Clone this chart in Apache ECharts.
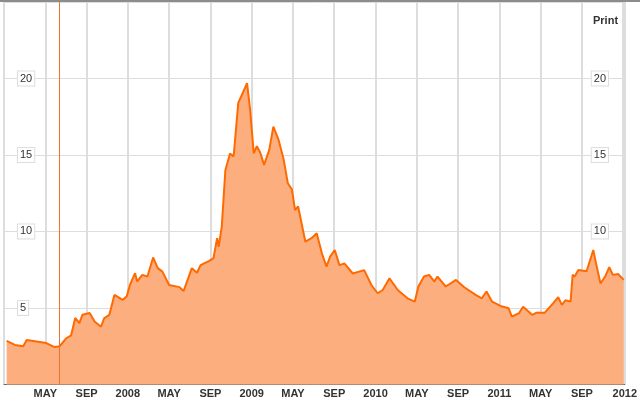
<!DOCTYPE html>
<html><head><meta charset="utf-8">
<script src="https://cdn.jsdelivr.net/npm/echarts@6/dist/echarts.min.js"></script>
<style>html,body{margin:0;padding:0;background:#fff}#c{width:640px;height:402px}</style>
</head><body><div id="c"></div>
<script>
// months since Jan 2007
const months = [0.26,1.06,1.86,2.2,3.15,4.1,4.9,5.4,6.0,6.5,6.9,7.3,7.6,8.3,8.8,9.4,9.7,10.2,10.7,11.5,11.9,12.2,12.7,12.9,13.4,13.9,14.45,14.9,15.35,16.0,17.0,17.4,18.2,18.7,19.05,19.85,20.3,20.65,20.8,21.1,21.45,21.9,22.25,22.7,23.2,23.55,23.85,24.2,24.5,24.8,25.2,25.7,26.1,26.6,27.1,27.5,27.9,28.2,28.5,29.2,29.8,30.3,30.8,31.25,31.6,32.05,32.5,33.0,33.8,34.9,35.6,36.2,36.7,37.35,37.7,38.15,39.1,39.8,40.15,40.7,41.2,41.7,42.0,42.8,43.8,44.6,45.7,46.3,46.75,47.3,48.1,48.9,49.2,49.9,50.3,51.2,51.6,52.4,53.2,53.7,54.05,54.4,54.9,55.1,55.3,55.65,56.45,57.1,57.4,57.8,58.25,58.65,59.0,59.5,60.05];
const values = [2.84,2.58,2.5,2.9,2.8,2.7,2.44,2.5,3.0,3.2,4.35,4.0,4.55,4.67,4.1,3.77,4.32,4.54,5.85,5.52,5.77,6.5,7.27,6.72,7.16,7.05,8.3,7.6,7.37,6.5,6.36,6.1,7.6,7.3,7.8,8.06,8.25,9.56,9.0,10.3,14.0,15.1,14.9,18.4,19.15,19.7,17.95,15.1,15.57,15.2,14.35,15.33,16.85,16.0,14.7,13.15,12.74,11.4,11.63,9.33,9.56,9.88,8.57,7.7,8.35,8.79,7.8,7.9,7.25,7.47,6.5,5.96,6.17,6.94,6.6,6.17,5.63,5.41,6.4,7.05,7.16,6.72,7.05,6.4,6.83,6.35,5.85,5.63,6.07,5.41,5.13,4.98,4.43,4.65,5.08,4.54,4.69,4.69,5.3,5.7,5.2,5.5,5.41,7.16,7.05,7.48,7.4,8.79,7.8,6.6,7.05,7.67,7.16,7.22,6.83];
const monthNames = {4:'MAY',8:'SEP'};
const yTicks = [5,10,15,20];
const markerMonth = 5.4;

const chart = echarts.init(document.getElementById('c'));
const yLabel = {inside:true,color:'#333',fontSize:11,fontFamily:'Arial, Liberation Sans, sans-serif',
  backgroundColor:'#fff',borderColor:'#ddd',borderWidth:1,padding:[2,2,1,2],showMinLabel:false,showMaxLabel:false,verticalAlign:'middle'};
chart.setOption({
  animation:false,
  grid:{left:4,right:11.6,top:2,bottom:17.6},
  xAxis:{type:'value',min:0,max:60.15,interval:4,
    axisLine:{show:true,lineStyle:{color:'#666',width:1}},axisTick:{show:false},
    splitLine:{show:true,lineStyle:{color:'#ddd',width:2}},
    axisLabel:{margin:4,color:'#333',fontSize:11,fontWeight:'bold',fontFamily:'Arial, Liberation Sans, sans-serif',
      showMaxLabel:true,
      formatter:v=>{const m=Math.round(v)%12; if(m===0) return Math.round(v)===0?'':String(2007+Math.round(v)/12); return monthNames[m]||'';}}},
  yAxis:[
    {type:'value',min:0,max:25,interval:5,position:'left',axisLine:{show:false},axisTick:{show:false},
     splitLine:{show:true,lineStyle:{color:'#ddd',width:1}},
     axisLabel:Object.assign({margin:14,align:'left'},yLabel)},
    {type:'value',min:0,max:25,interval:5,position:'right',axisLine:{show:false},axisTick:{show:false},
     splitLine:{show:false},
     axisLabel:Object.assign({margin:33,align:'left'},yLabel)}
  ],
  graphic:[
    {type:'line',shape:{x1:0,y1:1,x2:640,y2:1},style:{stroke:'#666',lineWidth:1.5}},
    {type:'text',left:593,top:15,style:{text:'Print',fill:'#333',font:'bold 11px Arial, Liberation Sans, sans-serif'}}
  ],
  series:[{type:'line',data:months.map((m,i)=>[m,values[i]]),showSymbol:false,symbol:'none',
    lineStyle:{color:'#ff6a00',width:2},areaStyle:{color:'#fdae7f',opacity:1},
    markLine:{silent:true,symbol:'none',label:{show:false},lineStyle:{color:'#f07030',width:1,type:'solid'},
      data:[{xAxis:markerMonth}]}}]
});
</script></body></html>
